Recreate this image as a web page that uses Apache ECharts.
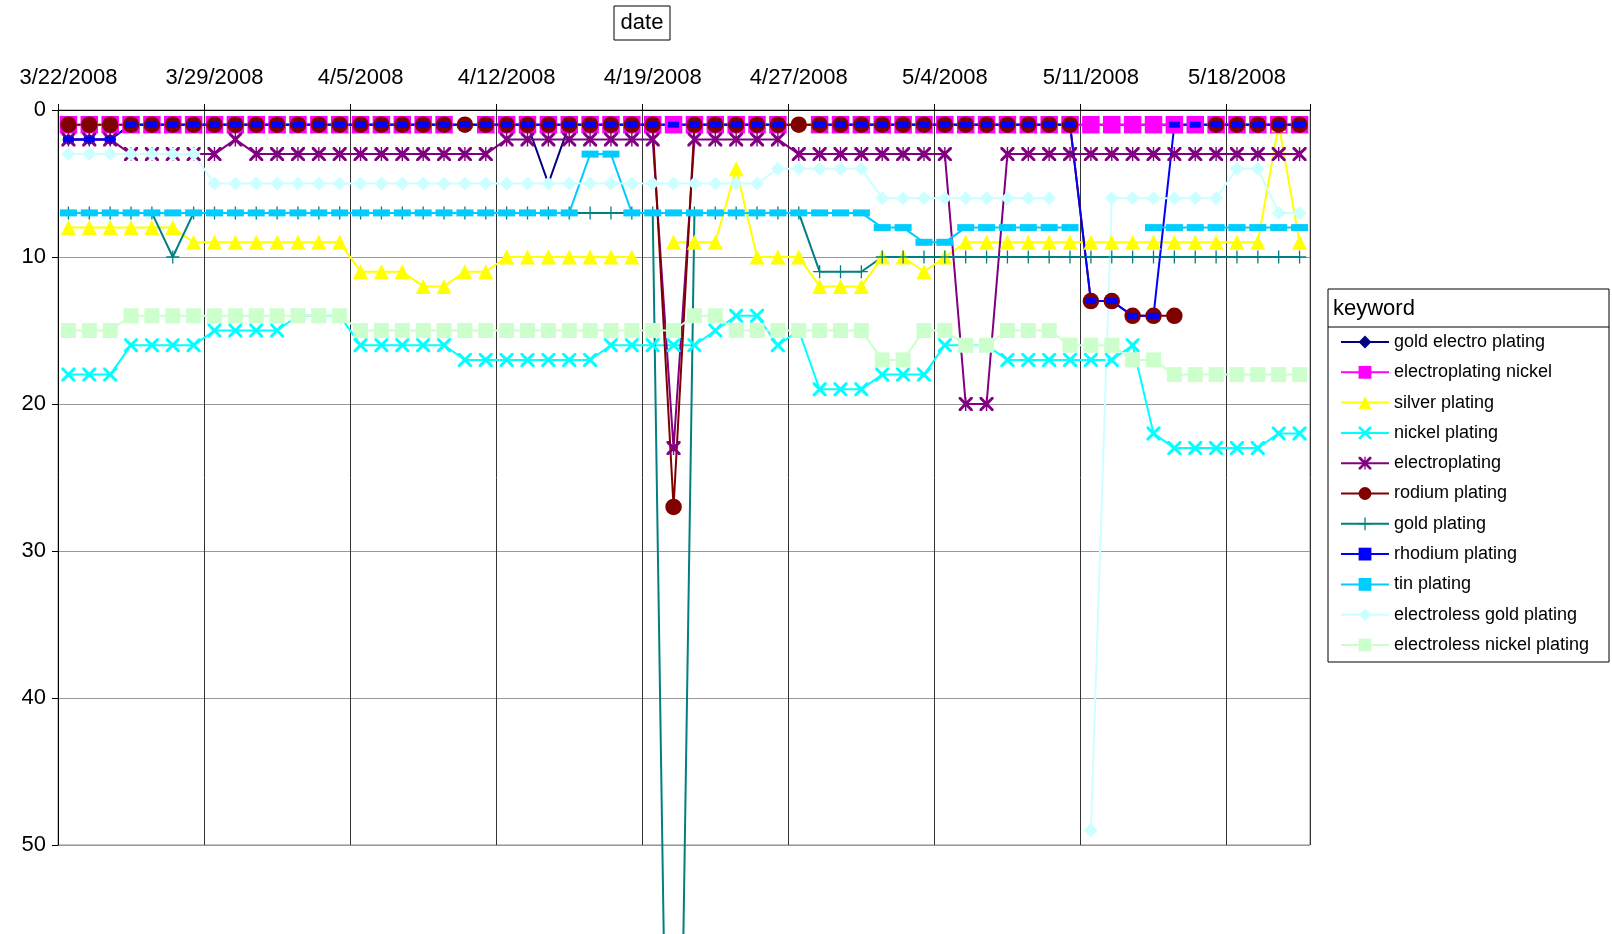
<!DOCTYPE html>
<html><head><meta charset="utf-8">
<script src="https://cdn.jsdelivr.net/npm/echarts@6/dist/echarts.min.js"></script>
<style>html,body{margin:0;padding:0;background:#fff}#c{width:1612px;height:934px}</style>
</head><body><div id="c"></div>
<script>
const dates = ['3/22/2008','3/23/2008','3/24/2008','3/25/2008','3/26/2008','3/27/2008','3/28/2008','3/29/2008','3/30/2008','3/31/2008',
'4/1/2008','4/2/2008','4/3/2008','4/4/2008','4/5/2008','4/6/2008','4/7/2008','4/8/2008','4/9/2008','4/10/2008',
'4/11/2008','4/12/2008','4/13/2008','4/14/2008','4/15/2008','4/16/2008','4/17/2008','4/18/2008','4/19/2008',
'4/20/2008','4/21/2008','4/22/2008','4/23/2008','4/24/2008','4/25/2008',
'4/27/2008','4/28/2008','4/29/2008','4/30/2008',
'5/1/2008','5/2/2008','5/3/2008','5/4/2008','5/5/2008','5/6/2008','5/7/2008','5/8/2008','5/9/2008','5/10/2008',
'5/11/2008','5/12/2008','5/13/2008','5/14/2008','5/15/2008','5/16/2008','5/17/2008','5/18/2008','5/19/2008','5/20/2008','5/21/2008'];

const goldElectroPlating = [2,2,2,1,1,1,1,1,1,1, 1,1,1,1,1,1,1,1,1,1, 1,1,1,5,1,1,1,1,1,1, 1,1,1,1,1,1,1,1,1,1, 1,1,1,1,1,1,1,1,1,1, 1,1,1,1,1,1,1,1,1,1];
const electroplatingNickel = [1,1,1,1,1,1,1,1,1,1, 1,1,1,1,1,1,1,1,1,null, 1,1,1,1,1,1,1,1,1,1, 1,1,1,1,1,null,1,1,1,1, 1,1,1,1,1,1,1,1,1,1, 1,1,1,1,1,1,1,1,1,1];
const silverPlating = [8,8,8,8,8,8,9,9,9,9, 9,9,9,9,11,11,11,12,12,11, 11,10,10,10,10,10,10,10,null,9, 9,9,4,10,10,10,12,12,12,10, 10,11,10,9,9,9,9,9,9,9, 9,9,9,9,9,9,9,9,1,9];
const nickelPlating = [18,18,18,16,16,16,16,15,15,15, 15,14,14,14,16,16,16,16,16,17, 17,17,17,17,17,17,16,16,16,16, 16,15,14,14,16,15,19,19,19,18, 18,18,16,16,16,17,17,17,17,17, 17,16,22,23,23,23,23,23,22,22];
const electroplating = [2,2,2,3,3,3,3,3,2,3, 3,3,3,3,3,3,3,3,3,3, 3,2,2,2,2,2,2,2,2,23, 2,2,2,2,2,3,3,3,3,3, 3,3,3,20,20,3,3,3,3,3, 3,3,3,3,3,3,3,3,3,3];
const rodiumPlating = [1,1,1,1,1,1,1,1,1,1, 1,1,1,1,1,1,1,1,1,1, 1,1,1,1,1,1,1,1,1,27, 1,1,1,1,1,1,1,1,1,1, 1,1,1,1,1,1,1,1,1,13, 13,14,14,14,null,1,1,1,1,1];
const goldPlating = [7,7,7,7,7,10,7,7,7,7, 7,7,7,7,7,7,7,7,7,7, 7,7,7,7,7,7,7,7,7,100, 7,7,7,7,7,7,11,11,11,10, 10,10,10,10,10,10,10,10,10,10, 10,10,10,10,10,10,10,10,10,10];
const rhodiumPlating = [2,2,2,1,1,1,1,1,1,1, 1,1,1,1,1,1,1,1,1,1, 1,1,1,1,1,1,1,1,1,1, 1,1,1,1,1,null,1,1,1,1, 1,1,1,1,1,1,1,1,1,13, 13,14,14,1,1,1,1,1,1,1];
const tinPlating = [7,7,7,7,7,7,7,7,7,7, 7,7,7,7,7,7,7,7,7,7, 7,7,7,7,7,3,3,7,7,7, 7,7,7,7,7,7,7,7,7,8, 8,9,9,8,8,8,8,8,8,null, null,null,8,8,8,8,8,8,8,8];
const electrolessGoldPlating = [3,3,3,3,3,3,3,5,5,5, 5,5,5,5,5,5,5,5,5,5, 5,5,5,5,5,5,5,5,5,5, 5,5,5,5,4,4,4,4,4,6, 6,6,6,6,6,6,6,6,null,49, 6,6,6,6,6,6,4,4,7,7];
const electrolessNickelPlating = [15,15,15,14,14,14,14,14,14,14, 14,14,14,14,15,15,15,15,15,15, 15,15,15,15,15,15,15,15,15,15, 14,14,15,15,15,15,15,15,15,17, 17,15,15,16,16,15,15,15,16,16, 16,17,17,18,18,18,18,18,18,18];

const FONT = '"Liberation Sans", Arial, sans-serif';
const xPath = 'path://M0,0 L3,0 L10,7 L17,0 L20,0 L20,3 L13,10 L20,17 L20,20 L17,20 L10,13 L3,20 L0,20 L0,17 L7,10 L0,3 Z';
const plusPath = 'path://M9,0 L11,0 L11,9 L20,9 L20,11 L11,11 L11,20 L9,20 L9,11 L0,11 L0,9 L9,9 Z';
const starPath = xPath + ' M9,0 L11,0 L11,20 L9,20 Z';

function mk(name, data, color, symbol, size, extra) {
  return Object.assign({
    name: name, type: 'line', data: data,
    symbol: symbol, symbolSize: size, showSymbol: true, showAllSymbol: true,
    lineStyle: {color: color, width: 2},
    itemStyle: {color: color, borderWidth: 0},
    connectNulls: false, animation: false
  }, extra || {});
}

const series = [
  mk('gold electro plating', goldElectroPlating, '#000080', 'diamond', 12),
  mk('electroplating nickel', electroplatingNickel, '#FF00FF', 'rect', 17.5),
  mk('silver plating', silverPlating, '#FFFF00', 'triangle', 15),
  mk('nickel plating', nickelPlating, '#00FFFF', xPath, 14),
  mk('electroplating', electroplating, '#800080', starPath, 14),
  mk('rodium plating', rodiumPlating, '#800000', 'circle', 16.5),
  mk('gold plating', goldPlating, '#008080', plusPath, 13, {clip: false}),
  mk('rhodium plating', rhodiumPlating, '#0000FF', 'rect', [11, 6]),
  mk('tin plating', tinPlating, '#00CCFF', 'rect', [17, 7]),
  mk('electroless gold plating', electrolessGoldPlating, '#CCFFFF', 'diamond', 14),
  mk('electroless nickel plating', electrolessNickelPlating, '#CCFFCC', 'rect', 15)
];

const chart = echarts.init(document.getElementById('c'));
chart.setOption({
  backgroundColor: '#fff',
  animation: false,
  grid: {left: 58, right: 302, top: 110, bottom: 89, show: true, borderColor: '#888', borderWidth: 1, containLabel: false},
  xAxis: {
    type: 'category', position: 'top', data: dates, boundaryGap: true,
    axisLine: {show: true, lineStyle: {color: '#000', width: 1}},
    axisTick: {show: true, interval: 6, length: 6, inside: false, lineStyle: {color: '#000'}},
    axisLabel: {interval: 6, fontSize: 22, fontFamily: FONT, color: '#000', margin: 21},
    splitLine: {show: true, interval: 6, lineStyle: {color: '#333', width: 1}}
  },
  yAxis: {
    type: 'value', inverse: true, min: 0, max: 50, interval: 10,
    axisLine: {show: true, lineStyle: {color: '#000', width: 1}},
    axisTick: {show: true, length: 6, lineStyle: {color: '#000'}},
    axisLabel: {fontSize: 22, fontFamily: FONT, color: '#000', margin: 12},
    splitLine: {show: true, lineStyle: {color: '#999', width: 1}}
  },
  legend: {
    orient: 'vertical', left: 1335, top: 327,
    itemWidth: 48, itemHeight: 16, itemGap: 10.3,
    textStyle: {fontSize: 18, fontFamily: FONT, color: '#000', lineHeight: 20},
    data: series.map(s => s.name)
  },
  graphic: [
    {type: 'rect', shape: {x: 614, y: 6, width: 56, height: 34}, style: {fill: '#fff', stroke: '#000', lineWidth: 1}},
    {type: 'text', x: 642, y: 23, style: {text: 'date', font: '22px ' + FONT, fill: '#000', textAlign: 'center', textVerticalAlign: 'middle'}},
    {type: 'rect', shape: {x: 1328, y: 289, width: 281, height: 373}, style: {fill: 'none', stroke: '#000', lineWidth: 1}, z: -1},
    {type: 'line', shape: {x1: 1328, y1: 327, x2: 1609, y2: 327}, style: {stroke: '#000', lineWidth: 1}},
    {type: 'text', x: 1333, y: 309, style: {text: 'keyword', font: '22px ' + FONT, fill: '#000', textVerticalAlign: 'middle'}}
  ],
  series: series
});
</script>
</body></html>
